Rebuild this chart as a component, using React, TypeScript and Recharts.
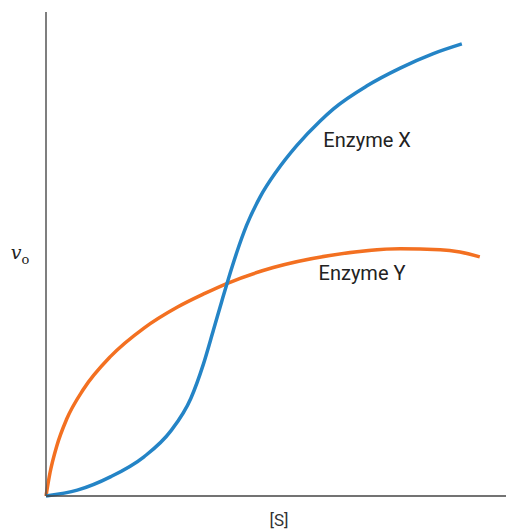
import { LineChart, Line, XAxis, YAxis, ReferenceDot } from 'recharts'

// [S] (arbitrary units, 0-100) vs v0 (arbitrary units, 0-100)
const enzymeXs = [0, 6.8, 14.1, 21.3, 27.1, 31.5, 34.2, 36.4, 38.2, 39.6, 41.5, 43.6, 46.5, 50.2, 54.5, 59.6, 62.5, 69.7, 77, 84.2, 90.4]
const enzymeXv = [0, 1.2, 4.0, 8.1, 13.4, 20.2, 27.2, 34.3, 40.2, 44.7, 50.4, 55.9, 61.7, 67.2, 72.4, 77.5, 80.0, 84.7, 88.4, 91.4, 93.4]

const enzymeYs = [0, 0.87, 2.33, 4.5, 8.1, 14.1, 21.3, 28.5, 34.4, 39.3, 49.4, 61.7, 77, 85.7, 90, 94.3]
const enzymeYv = [0, 4.8, 10.3, 15.9, 22.0, 28.9, 34.7, 39.0, 41.8, 43.9, 47.2, 49.7, 51.1, 50.9, 50.4, 49.4]

const curveLabels = [
  { name: 'Enzyme X', s: 69.8, v: 73.6 },
  { name: 'Enzyme Y', s: 68.7, v: 46.1 },
]

const dataX = enzymeXs.map((s, i) => ({ s, v: enzymeXv[i] }))
const dataY = enzymeYs.map((s, i) => ({ s, v: enzymeYv[i] }))

const font = 'Roboto, "Liberation Sans", sans-serif'

const YLabel = ({ viewBox }: any) => {
  const cx = viewBox.x + 20
  const cy = viewBox.y + viewBox.height / 2 + 5
  return (
    <text x={cx} y={cy} textAnchor="middle" fontFamily='"DejaVu Serif", serif' fill="#222">
      <tspan fontStyle="italic" fontSize={19}>v</tspan>
      <tspan fontSize={13} dy={5}>o</tspan>
    </text>
  )
}

const XLabel = ({ viewBox }: any) => (
  <text x={viewBox.x + viewBox.width / 2 + 3} y={viewBox.y + 30} textAnchor="middle"
    fontFamily={font} fontSize={17} fill="#333">[S]</text>
)

export default function App() {
  return (
    <div style={{ position: 'absolute', left: 0, top: 0, background: '#fff' }}>
      <LineChart width={507} height={531} margin={{ top: 12, right: 1, left: 0, bottom: 0 }}>
        <XAxis
          type="number" dataKey="s" domain={[0, 100]} tick={false} tickLine={false}
          axisLine={{ stroke: '#444', strokeWidth: 1.5 }} height={35}
          label={<XLabel />}
        />
        <YAxis
          type="number" dataKey="v" domain={[0, 100]} tick={false} tickLine={false}
          axisLine={{ stroke: '#555', strokeWidth: 1.5 }} width={46}
          label={<YLabel />}
        />
        <Line
          data={dataY} dataKey="v" type="monotone" stroke="#F37021" strokeWidth={3.5}
          dot={false} activeDot={false} isAnimationActive={false}
        />
        <Line
          data={dataX} dataKey="v" type="monotone" stroke="#2484C6" strokeWidth={3.5}
          dot={false} activeDot={false} isAnimationActive={false}
        />
        {curveLabels.map(l => (
          <ReferenceDot
            key={l.name} x={l.s} y={l.v} r={0} stroke="none" fill="none"
            label={{ value: l.name, position: 'center', fontFamily: font, fontSize: 20, fill: '#222' }}
          />
        ))}
      </LineChart>
    </div>
  )
}
